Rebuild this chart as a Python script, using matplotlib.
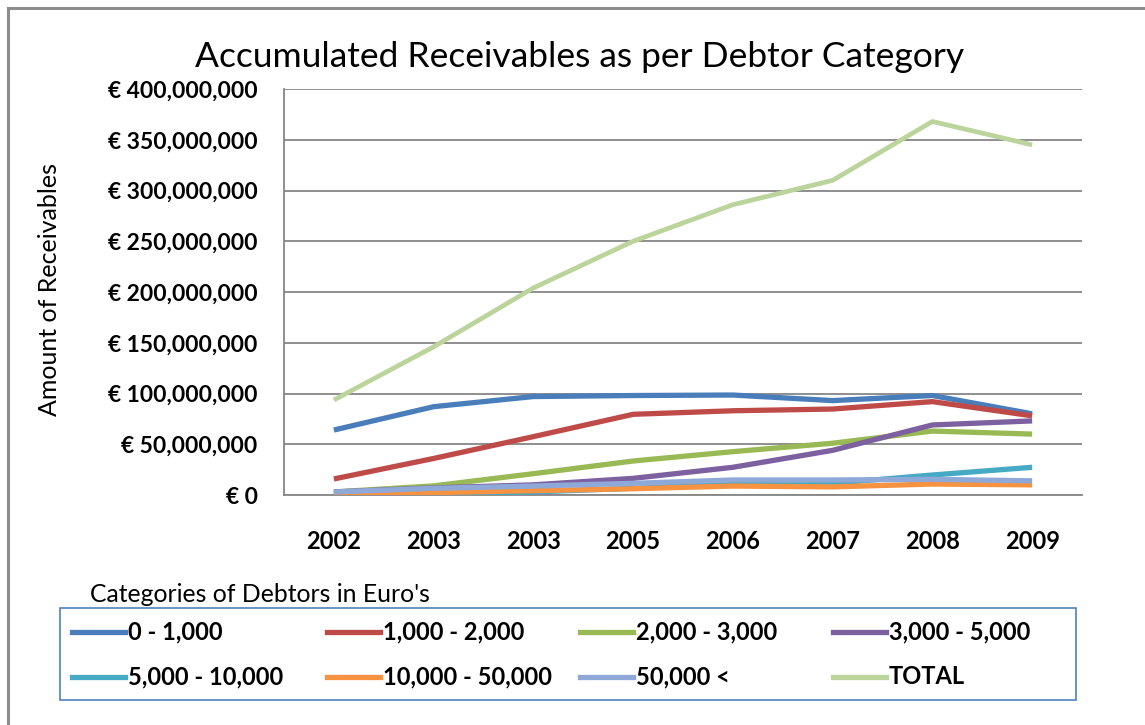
import matplotlib
matplotlib.use("Agg")
import matplotlib.pyplot as plt
from matplotlib.lines import Line2D
from matplotlib.patches import Rectangle
from matplotlib.ticker import FuncFormatter

years = ["2002", "2003", "2003", "2005", "2006", "2007", "2008", "2009"]
series_names = ["0 - 1,000", "1,000 - 2,000", "2,000 - 3,000", "3,000 - 5,000",
                "5,000 - 10,000", "10,000 - 50,000", "50,000 <", "TOTAL"]
cat_0_1000 = [64e6, 87e6, 97e6, 98e6, 98.5e6, 93e6, 98e6, 80e6]
cat_1000_2000 = [15.8e6, 36e6, 57.5e6, 79.5e6, 83e6, 84.7e6, 92e6, 78e6]
cat_2000_3000 = [3e6, 9e6, 21e6, 33.5e6, 42.7e6, 51e6, 63e6, 60e6]
cat_3000_5000 = [3e6, 7e6, 10e6, 16.4e6, 27.3e6, 44e6, 69e6, 73e6]
cat_5000_10000 = [1e6, 1.6e6, 3e6, 6.6e6, 10.8e6, 11.5e6, 19.7e6, 27.3e6]
cat_10000_50000 = [1e6, 2.3e6, 4.3e6, 6.2e6, 8.8e6, 8e6, 10.8e6, 10e6]
cat_50000_plus = [3e6, 6.6e6, 8.8e6, 11.5e6, 14.8e6, 14.8e6, 15.4e6, 14e6]
total = [93.6e6, 146e6, 204e6, 250e6, 286e6, 310e6, 368e6, 345e6]
y_ticks = [0, 50e6, 100e6, 150e6, 200e6, 250e6, 300e6, 350e6, 400e6]

all_series = [cat_0_1000, cat_1000_2000, cat_2000_3000, cat_3000_5000,
              cat_5000_10000, cat_10000_50000, cat_50000_plus, total]
colors = ["#4A7EBB", "#BE4B48", "#98B954", "#7D60A0",
          "#46AAC5", "#F69240", "#8EA9D8", "#BBD49B"]
widths = [3.8, 3.8, 3.8, 3.8, 3.8, 3.8, 3.8, 3.4]

FONT = "Lato"
W, H = 1145, 725
fig = plt.figure(figsize=(W / 100, H / 100), dpi=100)

def px(x0, y0, x1, y1):
    return [x0 / W, 1 - y1 / H, (x1 - x0) / W, (y1 - y0) / H]

# outer chart border
fig.patches.append(Rectangle((8 / W, -0.1), 1.2, 1 - 8 / H + 0.1, transform=fig.transFigure,
                             fill=False, edgecolor="#8C8C8C", linewidth=2.2, zorder=0))

ax = fig.add_axes(px(284, 89, 1082, 495))
x = list(range(len(years)))
draw_order = [7, 0, 1, 2, 3, 4, 5, 6]
for i in draw_order:
    ax.plot(x, all_series[i], color=colors[i], lw=widths[i], solid_capstyle="butt",
            solid_joinstyle="round", zorder=3 + i)

ax.set_xlim(-0.5, len(years) - 0.5)
ax.set_ylim(0, 400e6)
ax.set_yticks(y_ticks)
ax.yaxis.set_major_formatter(FuncFormatter(lambda v, p: "€ " + f"{int(v):,}" if v else "€ 0"))
ax.set_xticks(x)
ax.set_xticklabels(years)
ax.grid(axis="y", color="#868686", lw=1.3)
ax.set_axisbelow(True)
for s in ["top", "right"]:
    ax.spines[s].set_visible(False)
for s in ["left", "bottom"]:
    ax.spines[s].set_color("#868686")
    ax.spines[s].set_linewidth(1.3)
ax.tick_params(axis="both", length=0)
ax.tick_params(axis="y", pad=19)
ax.tick_params(axis="x", pad=25)
for lab in ax.get_yticklabels():
    lab.set_fontfamily(FONT)
    lab.set_fontweight("bold")
    lab.set_fontsize(16.5)
for lab in ax.get_xticklabels():
    lab.set_fontfamily(FONT)
    lab.set_fontweight("bold")
    lab.set_fontsize(17)

fig.text(580 / W, 1 - 57 / H, "Accumulated Receivables as per Debtor Category",
         ha="center", va="center", fontsize=25.5, family=FONT)
fig.text(50 / W, 1 - 290 / H, "Amount of Receivables", rotation=90,
         ha="center", va="center", fontsize=18, family=FONT)
fig.text(90 / W, 1 - 594 / H, "Categories of Debtors in Euro's",
         ha="left", va="center", fontsize=17.8, family=FONT)

# legend box
fig.patches.append(Rectangle((60 / W, 1 - 700 / H), (1076 - 60) / W, (700 - 608) / H,
                             transform=fig.transFigure, fill=False,
                             edgecolor="#4F81BD", linewidth=1.2))
col_x = [72, 327, 580, 833]
row_y = [632, 677]
for k, name in enumerate(series_names):
    r, c = divmod(k, 4)
    x0 = col_x[c]
    y0 = 1 - row_y[r] / H
    fig.add_artist(Line2D([x0 / W, (x0 + 53) / W], [y0, y0], transform=fig.transFigure,
                          color=colors[k], lw=3.8))
    fig.text((x0 + 56) / W, y0, name, ha="left", va="center", fontsize=17,
             fontweight="bold", family=FONT)

fig.savefig("out.png", dpi=100)
